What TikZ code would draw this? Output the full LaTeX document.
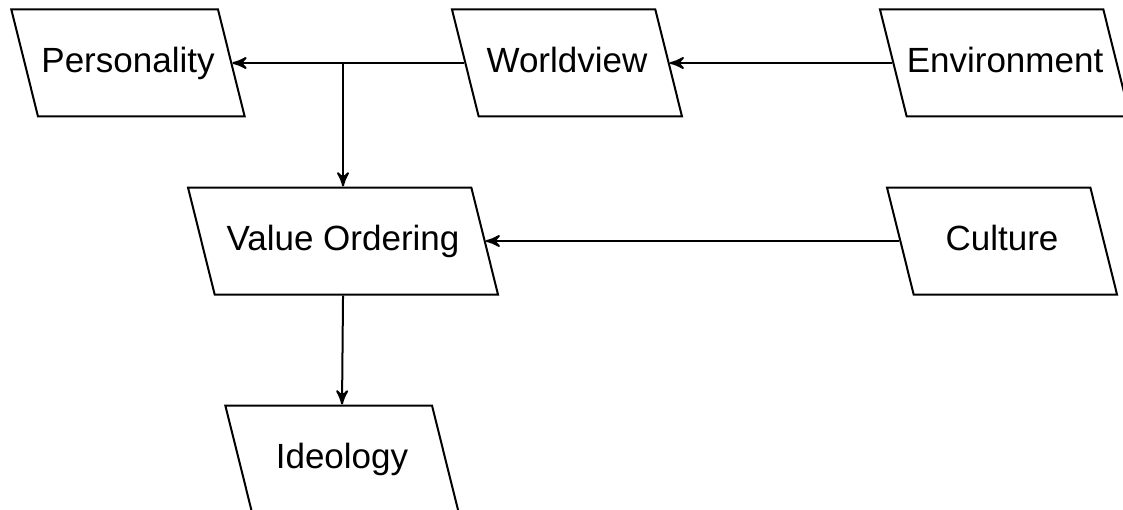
\documentclass[tikz,border=0pt]{standalone}
\usepackage{fontspec}
\setmainfont{Liberation Sans}
\usepackage{tikz}
\usetikzlibrary{shapes.geometric,arrows,calc}
\tikzstyle{factor}=[draw,trapezium,trapezium left angle=104,trapezium right angle=76,trapezium stretches body,text height=8pt,text depth=2.5pt,inner ysep=10.8pt,inner xsep=0pt,font=\fontsize{10.5}{12}\selectfont]

\begin{document}
\begin{tikzpicture}[x=0.3pt,y=-0.3pt,line width=0.6pt,>=stealth']
\clip (0,0) rectangle (1123,509);
\draw (128,63) node [factor, minimum width=70pt] (pers) {Personality};
\draw (567,63) node [factor, minimum width=69pt] (wv) {Worldview};
\draw (1005,63) node [factor, minimum width=75pt] (env) {Environment};
\draw (343,241) node [factor, minimum width=93pt] (vo) {Value Ordering};
\draw (1002,241) node [factor, minimum width=69pt] (cult) {Culture};
\draw (342,459) node [factor, minimum width=70pt] (ideo) {Ideology};
\draw[->] (wv.left side) -- (pers.right side);
\draw[->] (env.left side) -- (wv.right side);
\draw[->] (cult.left side) -- (vo.right side);
\draw[->] (wv.left side -| vo.north) -- (vo.north);
\draw[->] (vo.south) -- (ideo.north);
\end{tikzpicture}
\end{document}
